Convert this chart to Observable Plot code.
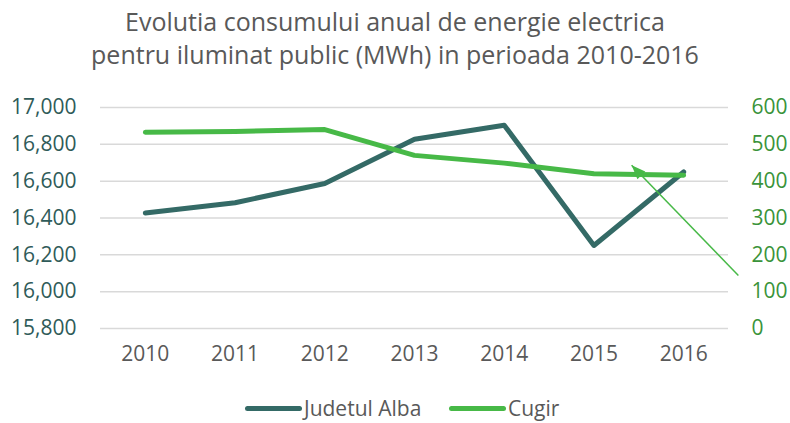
<!DOCTYPE html>
<html><head><meta charset="utf-8">
<script src="https://cdn.jsdelivr.net/npm/d3@7"></script>
<script src="https://cdn.jsdelivr.net/npm/@observablehq/plot@0.6"></script>
<style>
html,body{margin:0;padding:0;background:#fff;font-family:"Open Sans",sans-serif;width:790px;height:423px;overflow:hidden;}
#title{height:88px;text-align:center;color:#595959;font-size:25px;line-height:33px;padding-top:5px;box-sizing:border-box;white-space:nowrap;}
#chart svg{display:block;font-family:"Open Sans",sans-serif;}
#legend{position:relative;height:50px;}
.item{position:absolute;top:23px;display:flex;align-items:center;color:#595959;font-size:21px;line-height:24px;white-space:nowrap;}
.sw{display:inline-block;width:57px;height:5px;border-radius:3px;margin-right:2px;}
</style></head><body>
<div id="title">Evolutia consumului anual de energie electrica<br>pentru iluminat public (MWh) in perioada 2010-2016</div>
<div id="chart"></div>
<div id="legend"></div>
<script>
const years = [2010, 2011, 2012, 2013, 2014, 2015, 2016];
const judetulAlba = [16427, 16483, 16587, 16828, 16904, 16251, 16650];
const cugir = [533, 535, 540, 470, 449, 420, 416];
const leftTicks = [15800, 16000, 16200, 16400, 16600, 16800, 17000];
const rightTicks = [0, 100, 200, 300, 400, 500, 600];
const seriesNames = ["Judetul Alba", "Cugir"];
const seriesColors = ["#346a66", "#47b947"];
// annotation arrow (year position, right-axis value)
const arrowFrom = [2016.61, 144];
const arrowTo = [2015.42, 443];

const leftMin = 15800, leftMax = 17000, rightMax = 600;
const toLeft = v => leftMin + v * (leftMax - leftMin) / rightMax;
const fromLeft = v => Math.round((v - leftMin) * rightMax / (leftMax - leftMin));

const rows = years.map((y, i) => ({year: y, alba: judetulAlba[i], cugir: cugir[i]}));
const arrowRows = [{x1: arrowFrom[0], y1: toLeft(arrowFrom[1]), x2: arrowTo[0], y2: toLeft(arrowTo[1])}];

function filledArrow(color) {
  const m = d3.create("svg:marker")
    .attr("viewBox", "-14 -6 14 12")
    .attr("markerUnits", "userSpaceOnUse")
    .attr("markerWidth", 14)
    .attr("markerHeight", 12)
    .attr("orient", "auto")
    .attr("overflow", "visible")
    .attr("fill", color)
    .attr("stroke", "none");
  m.append("path").attr("d", "M-14,-5.5L0,0L-14,5.5Z");
  return m.node();
}

const chart = Plot.plot({
  width: 790,
  height: 285,
  marginTop: 19,
  marginBottom: 45,
  marginLeft: 100,
  marginRight: 62,
  x: {domain: [2009.5, 2016.5]},
  y: {domain: [leftMin, leftMax]},
  marks: [
    Plot.gridY(leftTicks, {stroke: "#d9d9d9", strokeOpacity: 1, strokeWidth: 1.5}),
    Plot.axisY(leftTicks, {anchor: "left", tickSize: 0, tickPadding: 24, tickFormat: d3.format(","), color: "#2f5b59", fontSize: 21, label: null}),
    Plot.axisY(rightTicks.map(toLeft), {anchor: "right", tickSize: 0, tickPadding: 23, tickFormat: v => String(fromLeft(v)), color: "#3a933a", fontSize: 21, label: null}),
    Plot.axisX(years, {tickSize: 0, tickPadding: 18, tickFormat: d => String(d), color: "#595959", fontSize: 21, label: null}),
    Plot.line(rows, {x: "year", y: "alba", stroke: seriesColors[0], strokeWidth: 5, strokeLinecap: "round", strokeLinejoin: "round"}),
    Plot.line(rows, {x: "year", y: d => toLeft(d.cugir), stroke: seriesColors[1], strokeWidth: 5, strokeLinecap: "round", strokeLinejoin: "round"}),
    Plot.link(arrowRows, {x1: "x1", y1: "y1", x2: "x2", y2: "y2", stroke: seriesColors[1], strokeWidth: 1.5, markerEnd: filledArrow})
  ]
});
document.getElementById("chart").appendChild(chart);

const legend = document.getElementById("legend");
const lefts = [245, 449];
seriesNames.forEach((n, i) => {
  const it = document.createElement("div");
  it.className = "item";
  it.style.left = lefts[i] + "px";
  it.innerHTML = `<span class="sw" style="background:${seriesColors[i]}"></span><span>${n}</span>`;
  legend.appendChild(it);
});
</script>
</body></html>
